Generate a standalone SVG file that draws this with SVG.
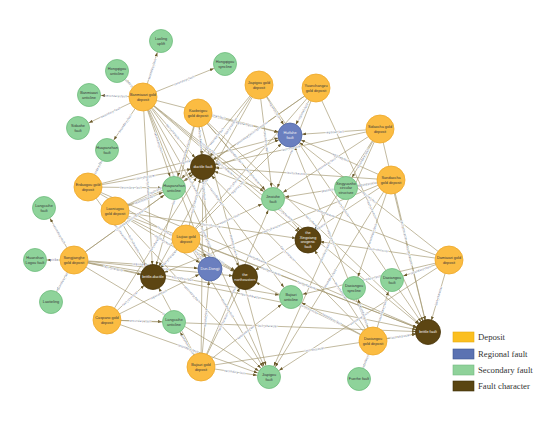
<svg xmlns="http://www.w3.org/2000/svg" width="550" height="425" viewBox="0 0 550 425">
<style>
.e{stroke:#A0946C;stroke-width:0.65;fill:none}
.a{marker-end:url(#arr)}
.b{marker-start:url(#arr)}
.el{font-family:"Liberation Sans",Arial,sans-serif;font-size:3px;fill:#505c7a;stroke:#fff;stroke-width:0.9px;paint-order:stroke;text-anchor:middle}
.dep{fill:#FBBC42;stroke:#EDA82A;stroke-width:0.8}
.reg{fill:#6A7FBF;stroke:#5067A6;stroke-width:0.8}
.sec{fill:#8ED39A;stroke:#6EBD7D;stroke-width:0.8}
.chr{fill:#5C4512;stroke:#463408;stroke-width:0.8}
.t{font-family:"Liberation Sans",Arial,sans-serif;font-size:3.8px;text-anchor:middle;fill:#3a3a3a}
.tw{font-family:"Liberation Sans",Arial,sans-serif;font-size:3.8px;text-anchor:middle;fill:#f2f2f2}
.lg{font-family:"Liberation Serif","Times New Roman",serif;font-size:8.7px;fill:#333}
</style>
<defs>
<marker id="arr" markerUnits="userSpaceOnUse" markerWidth="4" markerHeight="3" refX="16" refY="1.5" orient="auto-start-reverse">
<path d="M0,0 L4,1.5 L0,3 z" fill="#6B5A2A"/>
</marker>
</defs>
<g id="connectors">
<path id="e1" class="e a" d="M143 97 L161 41"/>
<path id="e2" class="e a" d="M143 97 L225 64"/>
<path id="e3" class="e b" d="M117 71 L143 97"/>
<path id="e4" class="e b" d="M89 95 L143 97"/>
<path id="e5" class="e b" d="M78 128 L143 97"/>
<path id="e6" class="e b" d="M107 150 L143 97"/>
<path id="e7" class="e a" d="M143 97 L203 167"/>
<path id="e8" class="e a" d="M143 97 L290 135"/>
<path id="e9" class="e a" d="M143 97 L153 277"/>
<path id="e10" class="e a" d="M143 97 L174 188"/>
<path id="e11" class="e a" d="M143 97 L273 199"/>
<path id="e12" class="e a" d="M143 97 L245 277"/>
<path id="e13" class="e a" d="M143 97 L308 240"/>
<path id="e14" class="e a" d="M143 97 L210 269"/>
<path id="e15" class="e a" d="M143 97 L428 332"/>
<path id="e16" class="e a" d="M143 97 L269 377"/>
<path id="e17" class="e a" d="M143 97 L291 297"/>
<path id="e18" class="e a" d="M198 113 L203 167"/>
<path id="e19" class="e a" d="M198 113 L290 135"/>
<path id="e20" class="e b" d="M174 188 L198 113"/>
<path id="e21" class="e b" d="M153 277 L198 113"/>
<path id="e22" class="e a" d="M198 113 L308 240"/>
<path id="e23" class="e a" d="M198 113 L428 332"/>
<path id="e24" class="e a" d="M198 113 L273 199"/>
<path id="e25" class="e a" d="M198 113 L210 269"/>
<path id="e26" class="e a" d="M198 113 L269 377"/>
<path id="e27" class="e a" d="M259 85 L290 135"/>
<path id="e28" class="e b" d="M203 167 L259 85"/>
<path id="e29" class="e b" d="M174 188 L259 85"/>
<path id="e30" class="e a" d="M259 85 L428 332"/>
<path id="e31" class="e a" d="M259 85 L273 199"/>
<path id="e32" class="e b" d="M153 277 L259 85"/>
<path id="e33" class="e b" d="M290 135 L316 88"/>
<path id="e34" class="e b" d="M203 167 L316 88"/>
<path id="e35" class="e b" d="M273 199 L316 88"/>
<path id="e36" class="e a" d="M316 88 L428 332"/>
<path id="e37" class="e b" d="M174 188 L316 88"/>
<path id="e38" class="e b" d="M153 277 L316 88"/>
<path id="e39" class="e b" d="M290 135 L380 129"/>
<path id="e40" class="e b" d="M203 167 L380 129"/>
<path id="e41" class="e b" d="M346 188 L380 129"/>
<path id="e42" class="e a" d="M380 129 L428 332"/>
<path id="e43" class="e b" d="M273 199 L380 129"/>
<path id="e44" class="e b" d="M308 240 L380 129"/>
<path id="e45" class="e b" d="M269 377 L380 129"/>
<path id="e46" class="e b" d="M290 135 L391 180"/>
<path id="e47" class="e b" d="M203 167 L391 180"/>
<path id="e48" class="e b" d="M346 188 L391 180"/>
<path id="e49" class="e a" d="M391 180 L428 332"/>
<path id="e50" class="e b" d="M269 377 L391 180"/>
<path id="e51" class="e b" d="M153 277 L391 180"/>
<path id="e52" class="e b" d="M273 199 L391 180"/>
<path id="e53" class="e b" d="M245 277 L391 180"/>
<path id="e54" class="e b" d="M354 288 L391 180"/>
<path id="e55" class="e b" d="M428 332 L449 260"/>
<path id="e56" class="e b" d="M392 280 L449 260"/>
<path id="e57" class="e b" d="M290 135 L449 260"/>
<path id="e58" class="e b" d="M203 167 L449 260"/>
<path id="e59" class="e b" d="M269 377 L449 260"/>
<path id="e60" class="e b" d="M291 297 L449 260"/>
<path id="e61" class="e b" d="M308 240 L449 260"/>
<path id="e62" class="e b" d="M354 288 L373 341"/>
<path id="e63" class="e a" d="M373 341 L392 280"/>
<path id="e64" class="e b" d="M359 379 L373 341"/>
<path id="e65" class="e a" d="M373 341 L428 332"/>
<path id="e66" class="e b" d="M308 240 L373 341"/>
<path id="e67" class="e b" d="M290 135 L373 341"/>
<path id="e68" class="e b" d="M203 167 L373 341"/>
<path id="e69" class="e b" d="M291 297 L373 341"/>
<path id="e70" class="e b" d="M245 277 L373 341"/>
<path id="e71" class="e b" d="M174 322 L201 367"/>
<path id="e72" class="e a" d="M201 367 L269 377"/>
<path id="e73" class="e a" d="M201 367 L210 269"/>
<path id="e74" class="e a" d="M201 367 L203 167"/>
<path id="e75" class="e a" d="M201 367 L245 277"/>
<path id="e76" class="e a" d="M201 367 L291 297"/>
<path id="e77" class="e a" d="M201 367 L428 332"/>
<path id="e78" class="e b" d="M153 277 L201 367"/>
<path id="e79" class="e a" d="M201 367 L273 199"/>
<path id="e80" class="e a" d="M107 320 L153 277"/>
<path id="e81" class="e a" d="M107 320 L174 322"/>
<path id="e82" class="e a" d="M107 320 L269 377"/>
<path id="e83" class="e a" d="M107 320 L210 269"/>
<path id="e84" class="e a" d="M107 320 L428 332"/>
<path id="e85" class="e a" d="M107 320 L203 167"/>
<path id="e86" class="e b" d="M44 208 L74 260"/>
<path id="e87" class="e b" d="M35 260 L74 260"/>
<path id="e88" class="e b" d="M51 302 L74 260"/>
<path id="e89" class="e a" d="M74 260 L153 277"/>
<path id="e90" class="e a" d="M74 260 L203 167"/>
<path id="e91" class="e a" d="M74 260 L210 269"/>
<path id="e92" class="e a" d="M74 260 L245 277"/>
<path id="e93" class="e a" d="M74 260 L269 377"/>
<path id="e94" class="e a" d="M74 260 L428 332"/>
<path id="e95" class="e a" d="M74 260 L174 188"/>
<path id="e96" class="e a" d="M74 260 L291 297"/>
<path id="e97" class="e a" d="M115 211 L203 167"/>
<path id="e98" class="e a" d="M115 211 L174 188"/>
<path id="e99" class="e a" d="M115 211 L153 277"/>
<path id="e100" class="e a" d="M115 211 L210 269"/>
<path id="e101" class="e a" d="M115 211 L269 377"/>
<path id="e102" class="e a" d="M115 211 L428 332"/>
<path id="e103" class="e a" d="M115 211 L290 135"/>
<path id="e104" class="e a" d="M115 211 L245 277"/>
<path id="e105" class="e a" d="M115 211 L308 240"/>
<path id="e106" class="e a" d="M88 187 L107 150"/>
<path id="e107" class="e a" d="M88 187 L203 167"/>
<path id="e108" class="e a" d="M88 187 L174 188"/>
<path id="e109" class="e a" d="M88 187 L290 135"/>
<path id="e110" class="e a" d="M88 187 L153 277"/>
<path id="e111" class="e a" d="M88 187 L428 332"/>
<path id="e112" class="e a" d="M88 187 L245 277"/>
<path id="e113" class="e a" d="M186 239 L203 167"/>
<path id="e114" class="e a" d="M186 239 L210 269"/>
<path id="e115" class="e a" d="M186 239 L245 277"/>
<path id="e116" class="e b" d="M153 277 L186 239"/>
<path id="e117" class="e a" d="M186 239 L269 377"/>
<path id="e118" class="e a" d="M186 239 L428 332"/>
<path id="e119" class="e a" d="M186 239 L290 135"/>
<path id="e120" class="e a" d="M186 239 L273 199"/>
<g id="edge-labels">
<text class="el" dy="1"><textPath href="#e1" startOffset="50%">secondary_fault</textPath></text>
<text class="el" dy="1"><textPath href="#e2" startOffset="50%">secondary_fault</textPath></text>
<text class="el" dy="1"><textPath href="#e3" startOffset="50%">secondary_fault</textPath></text>
<text class="el" dy="1"><textPath href="#e4" startOffset="50%">secondary_fault</textPath></text>
<text class="el" dy="1"><textPath href="#e5" startOffset="50%">secondary_fault</textPath></text>
<text class="el" dy="1"><textPath href="#e6" startOffset="50%">secondary_fault</textPath></text>
<text class="el" dy="1"><textPath href="#e7" startOffset="50%">fault_character</textPath></text>
<text class="el" dy="1"><textPath href="#e8" startOffset="50%">regional_fault</textPath></text>
<text class="el" dy="1"><textPath href="#e9" startOffset="50%">fault_character</textPath></text>
<text class="el" dy="1"><textPath href="#e10" startOffset="50%">secondary_fault</textPath></text>
<text class="el" dy="1"><textPath href="#e11" startOffset="50%">secondary_fault</textPath></text>
<text class="el" dy="1"><textPath href="#e12" startOffset="50%">fault_character</textPath></text>
<text class="el" dy="1"><textPath href="#e13" startOffset="50%">fault_character</textPath></text>
<text class="el" dy="1"><textPath href="#e14" startOffset="50%">regional_fault</textPath></text>
<text class="el" dy="1"><textPath href="#e15" startOffset="50%">fault_character</textPath></text>
<text class="el" dy="1"><textPath href="#e16" startOffset="50%">secondary_fault</textPath></text>
<text class="el" dy="1"><textPath href="#e17" startOffset="50%">secondary_fault</textPath></text>
<text class="el" dy="1"><textPath href="#e18" startOffset="50%">fault_character</textPath></text>
<text class="el" dy="1"><textPath href="#e19" startOffset="50%">regional_fault</textPath></text>
<text class="el" dy="1"><textPath href="#e20" startOffset="50%">secondary_fault</textPath></text>
<text class="el" dy="1"><textPath href="#e21" startOffset="50%">fault_character</textPath></text>
<text class="el" dy="1"><textPath href="#e22" startOffset="50%">fault_character</textPath></text>
<text class="el" dy="1"><textPath href="#e23" startOffset="50%">fault_character</textPath></text>
<text class="el" dy="1"><textPath href="#e24" startOffset="50%">secondary_fault</textPath></text>
<text class="el" dy="1"><textPath href="#e25" startOffset="50%">regional_fault</textPath></text>
<text class="el" dy="1"><textPath href="#e26" startOffset="50%">secondary_fault</textPath></text>
<text class="el" dy="1"><textPath href="#e27" startOffset="50%">regional_fault</textPath></text>
<text class="el" dy="1"><textPath href="#e28" startOffset="50%">fault_character</textPath></text>
<text class="el" dy="1"><textPath href="#e29" startOffset="50%">secondary_fault</textPath></text>
<text class="el" dy="1"><textPath href="#e30" startOffset="50%">fault_character</textPath></text>
<text class="el" dy="1"><textPath href="#e31" startOffset="50%">secondary_fault</textPath></text>
<text class="el" dy="1"><textPath href="#e32" startOffset="50%">fault_character</textPath></text>
<text class="el" dy="1"><textPath href="#e33" startOffset="50%">regional_fault</textPath></text>
<text class="el" dy="1"><textPath href="#e34" startOffset="50%">fault_character</textPath></text>
<text class="el" dy="1"><textPath href="#e35" startOffset="50%">secondary_fault</textPath></text>
<text class="el" dy="1"><textPath href="#e36" startOffset="50%">fault_character</textPath></text>
<text class="el" dy="1"><textPath href="#e37" startOffset="50%">secondary_fault</textPath></text>
<text class="el" dy="1"><textPath href="#e38" startOffset="50%">fault_character</textPath></text>
<text class="el" dy="1"><textPath href="#e39" startOffset="50%">regional_fault</textPath></text>
<text class="el" dy="1"><textPath href="#e40" startOffset="50%">fault_character</textPath></text>
<text class="el" dy="1"><textPath href="#e41" startOffset="50%">secondary_fault</textPath></text>
<text class="el" dy="1"><textPath href="#e42" startOffset="50%">fault_character</textPath></text>
<text class="el" dy="1"><textPath href="#e43" startOffset="50%">secondary_fault</textPath></text>
<text class="el" dy="1"><textPath href="#e44" startOffset="50%">fault_character</textPath></text>
<text class="el" dy="1"><textPath href="#e45" startOffset="50%">secondary_fault</textPath></text>
<text class="el" dy="1"><textPath href="#e46" startOffset="50%">regional_fault</textPath></text>
<text class="el" dy="1"><textPath href="#e47" startOffset="50%">fault_character</textPath></text>
<text class="el" dy="1"><textPath href="#e48" startOffset="50%">secondary_fault</textPath></text>
<text class="el" dy="1"><textPath href="#e49" startOffset="50%">fault_character</textPath></text>
<text class="el" dy="1"><textPath href="#e50" startOffset="50%">secondary_fault</textPath></text>
<text class="el" dy="1"><textPath href="#e51" startOffset="50%">fault_character</textPath></text>
<text class="el" dy="1"><textPath href="#e52" startOffset="50%">secondary_fault</textPath></text>
<text class="el" dy="1"><textPath href="#e53" startOffset="50%">fault_character</textPath></text>
<text class="el" dy="1"><textPath href="#e54" startOffset="50%">secondary_fault</textPath></text>
<text class="el" dy="1"><textPath href="#e55" startOffset="50%">fault_character</textPath></text>
<text class="el" dy="1"><textPath href="#e56" startOffset="50%">secondary_fault</textPath></text>
<text class="el" dy="1"><textPath href="#e57" startOffset="50%">regional_fault</textPath></text>
<text class="el" dy="1"><textPath href="#e58" startOffset="50%">fault_character</textPath></text>
<text class="el" dy="1"><textPath href="#e59" startOffset="50%">secondary_fault</textPath></text>
<text class="el" dy="1"><textPath href="#e60" startOffset="50%">secondary_fault</textPath></text>
<text class="el" dy="1"><textPath href="#e61" startOffset="50%">fault_character</textPath></text>
<text class="el" dy="1"><textPath href="#e62" startOffset="50%">secondary_fault</textPath></text>
<text class="el" dy="1"><textPath href="#e63" startOffset="50%">secondary_fault</textPath></text>
<text class="el" dy="1"><textPath href="#e64" startOffset="50%">secondary_fault</textPath></text>
<text class="el" dy="1"><textPath href="#e65" startOffset="50%">fault_character</textPath></text>
<text class="el" dy="1"><textPath href="#e66" startOffset="50%">fault_character</textPath></text>
<text class="el" dy="1"><textPath href="#e67" startOffset="50%">regional_fault</textPath></text>
<text class="el" dy="1"><textPath href="#e68" startOffset="50%">fault_character</textPath></text>
<text class="el" dy="1"><textPath href="#e69" startOffset="50%">secondary_fault</textPath></text>
<text class="el" dy="1"><textPath href="#e70" startOffset="50%">fault_character</textPath></text>
<text class="el" dy="1"><textPath href="#e71" startOffset="50%">secondary_fault</textPath></text>
<text class="el" dy="1"><textPath href="#e72" startOffset="50%">secondary_fault</textPath></text>
<text class="el" dy="1"><textPath href="#e73" startOffset="50%">regional_fault</textPath></text>
<text class="el" dy="1"><textPath href="#e74" startOffset="50%">fault_character</textPath></text>
<text class="el" dy="1"><textPath href="#e75" startOffset="50%">fault_character</textPath></text>
<text class="el" dy="1"><textPath href="#e76" startOffset="50%">secondary_fault</textPath></text>
<text class="el" dy="1"><textPath href="#e77" startOffset="50%">fault_character</textPath></text>
<text class="el" dy="1"><textPath href="#e78" startOffset="50%">fault_character</textPath></text>
<text class="el" dy="1"><textPath href="#e79" startOffset="50%">secondary_fault</textPath></text>
<text class="el" dy="1"><textPath href="#e80" startOffset="50%">fault_character</textPath></text>
<text class="el" dy="1"><textPath href="#e81" startOffset="50%">secondary_fault</textPath></text>
<text class="el" dy="1"><textPath href="#e82" startOffset="50%">secondary_fault</textPath></text>
<text class="el" dy="1"><textPath href="#e83" startOffset="50%">regional_fault</textPath></text>
<text class="el" dy="1"><textPath href="#e84" startOffset="50%">fault_character</textPath></text>
<text class="el" dy="1"><textPath href="#e85" startOffset="50%">fault_character</textPath></text>
<text class="el" dy="1"><textPath href="#e86" startOffset="50%">secondary_fault</textPath></text>
<text class="el" dy="1"><textPath href="#e87" startOffset="50%">strike</textPath></text>
<text class="el" dy="1"><textPath href="#e88" startOffset="50%">secondary_fault</textPath></text>
<text class="el" dy="1"><textPath href="#e89" startOffset="50%">fault_character</textPath></text>
<text class="el" dy="1"><textPath href="#e90" startOffset="50%">fault_character</textPath></text>
<text class="el" dy="1"><textPath href="#e91" startOffset="50%">regional_fault</textPath></text>
<text class="el" dy="1"><textPath href="#e92" startOffset="50%">fault_character</textPath></text>
<text class="el" dy="1"><textPath href="#e93" startOffset="50%">secondary_fault</textPath></text>
<text class="el" dy="1"><textPath href="#e94" startOffset="50%">fault_character</textPath></text>
<text class="el" dy="1"><textPath href="#e95" startOffset="50%">secondary_fault</textPath></text>
<text class="el" dy="1"><textPath href="#e96" startOffset="50%">secondary_fault</textPath></text>
<text class="el" dy="1"><textPath href="#e97" startOffset="50%">fault_character</textPath></text>
<text class="el" dy="1"><textPath href="#e98" startOffset="50%">secondary_fault</textPath></text>
<text class="el" dy="1"><textPath href="#e99" startOffset="50%">fault_character</textPath></text>
<text class="el" dy="1"><textPath href="#e100" startOffset="50%">regional_fault</textPath></text>
<text class="el" dy="1"><textPath href="#e101" startOffset="50%">secondary_fault</textPath></text>
<text class="el" dy="1"><textPath href="#e102" startOffset="50%">fault_character</textPath></text>
<text class="el" dy="1"><textPath href="#e103" startOffset="50%">regional_fault</textPath></text>
<text class="el" dy="1"><textPath href="#e104" startOffset="50%">fault_character</textPath></text>
<text class="el" dy="1"><textPath href="#e105" startOffset="50%">fault_character</textPath></text>
<text class="el" dy="1"><textPath href="#e106" startOffset="50%">secondary_fault</textPath></text>
<text class="el" dy="1"><textPath href="#e107" startOffset="50%">fault_character</textPath></text>
<text class="el" dy="1"><textPath href="#e108" startOffset="50%">secondary_fault</textPath></text>
<text class="el" dy="1"><textPath href="#e109" startOffset="50%">regional_fault</textPath></text>
<text class="el" dy="1"><textPath href="#e110" startOffset="50%">fault_character</textPath></text>
<text class="el" dy="1"><textPath href="#e111" startOffset="50%">fault_character</textPath></text>
<text class="el" dy="1"><textPath href="#e112" startOffset="50%">fault_character</textPath></text>
<text class="el" dy="1"><textPath href="#e113" startOffset="50%">fault_character</textPath></text>
<text class="el" dy="1"><textPath href="#e114" startOffset="50%">regional_fault</textPath></text>
<text class="el" dy="1"><textPath href="#e115" startOffset="50%">fault_character</textPath></text>
<text class="el" dy="1"><textPath href="#e116" startOffset="50%">fault_character</textPath></text>
<text class="el" dy="1"><textPath href="#e117" startOffset="50%">secondary_fault</textPath></text>
<text class="el" dy="1"><textPath href="#e118" startOffset="50%">fault_character</textPath></text>
<text class="el" dy="1"><textPath href="#e119" startOffset="50%">regional_fault</textPath></text>
<text class="el" dy="1"><textPath href="#e120" startOffset="50%">secondary_fault</textPath></text>
</g>
</g>
<g id="nodes">
<g id="banmiaozi-gd"><circle class="dep" cx="143" cy="97" r="14"/><text class="t" x="143" y="96">Banmiaozi gold</text><text class="t" x="143" y="100.5">deposit</text></g>
<g id="kaobeigou-gd"><circle class="dep" cx="198" cy="113" r="14"/><text class="t" x="198" y="112">Kaobeigou</text><text class="t" x="198" y="116.5">gold deposit</text></g>
<g id="jiapigou-gd"><circle class="dep" cx="259" cy="85" r="14"/><text class="t" x="259" y="84">Jiapigou gold</text><text class="t" x="259" y="88.5">deposit</text></g>
<g id="yuanchangzu-gd"><circle class="dep" cx="316" cy="88" r="14"/><text class="t" x="316" y="87">Yuanchangzu</text><text class="t" x="316" y="91.5">gold deposit</text></g>
<g id="sidaocha-gd"><circle class="dep" cx="380" cy="129" r="14"/><text class="t" x="380" y="128">Sidaocha gold</text><text class="t" x="380" y="132.5">deposit</text></g>
<g id="sandaocha-gd"><circle class="dep" cx="391" cy="180" r="14"/><text class="t" x="391" y="179">Sandaocha</text><text class="t" x="391" y="183.5">gold deposit</text></g>
<g id="damiaozi-gd"><circle class="dep" cx="449" cy="260" r="14"/><text class="t" x="449" y="259">Damiaozi gold</text><text class="t" x="449" y="263.5">deposit</text></g>
<g id="daxiangou-gd"><circle class="dep" cx="373" cy="341" r="14"/><text class="t" x="373" y="340">Daxiangou</text><text class="t" x="373" y="344.5">gold deposit</text></g>
<g id="bajiazi-gd"><circle class="dep" cx="201" cy="367" r="14"/><text class="t" x="201" y="366">Bajiazi gold</text><text class="t" x="201" y="370.5">deposit</text></g>
<g id="caspano-gd"><circle class="dep" cx="107" cy="320" r="14"/><text class="t" x="107" y="319">Caspano gold</text><text class="t" x="107" y="323.5">deposit</text></g>
<g id="songjianghe-gd"><circle class="dep" cx="74" cy="260" r="14"/><text class="t" x="74" y="259">Songjianghe</text><text class="t" x="74" y="263.5">gold deposit</text></g>
<g id="laoniugou-gd"><circle class="dep" cx="115" cy="211" r="14"/><text class="t" x="115" y="210">Laoniugou</text><text class="t" x="115" y="214.5">gold deposit</text></g>
<g id="erdaogou-gd"><circle class="dep" cx="88" cy="187" r="14"/><text class="t" x="88" y="186">Erdaogou gold</text><text class="t" x="88" y="190.5">deposit</text></g>
<g id="liujiao-gd"><circle class="dep" cx="186" cy="239" r="14"/><text class="t" x="186" y="238">Liujiao gold</text><text class="t" x="186" y="242.5">deposit</text></g>
<g id="huifahe-fault"><circle class="reg" cx="290" cy="135" r="12"/><text class="tw" x="290" y="134">Huifahe</text><text class="tw" x="290" y="138.5">fault</text></g>
<g id="dun-dongji"><circle class="reg" cx="210" cy="269" r="12"/><text class="tw" x="210" y="270.3">Dun-Dongji</text></g>
<g id="ductile-fault"><circle class="chr" cx="203" cy="167" r="12.5"/><text class="tw" x="203" y="168.3">ductile fault</text></g>
<g id="xingxiang-fault"><circle class="chr" cx="308" cy="240" r="13"/><text class="tw" x="308" y="234">the</text><text class="tw" x="308" y="238.5">Xingxiang</text><text class="tw" x="308" y="243">orogenic</text><text class="tw" x="308" y="247.5">fault</text></g>
<g id="brittle-ductile"><circle class="chr" cx="153" cy="277" r="12.5"/><text class="tw" x="153" y="278.3">brittle-ductile</text></g>
<g id="northeastern"><circle class="chr" cx="245" cy="277" r="12.5"/><text class="tw" x="245" y="276">the</text><text class="tw" x="245" y="280.5">northeastern</text></g>
<g id="brittle-fault"><circle class="chr" cx="428" cy="332" r="12.5"/><text class="tw" x="428" y="333.3">brittle fault</text></g>
<g id="laoling-uplift"><circle class="sec" cx="161" cy="41" r="11.5"/><text class="t" x="161" y="40">Laoling</text><text class="t" x="161" y="44.5">uplift</text></g>
<g id="hongqigou-syncline"><circle class="sec" cx="225" cy="64" r="11.5"/><text class="t" x="225" y="63">Hongqigou</text><text class="t" x="225" y="67.5">syncline</text></g>
<g id="hongqigou-anticline"><circle class="sec" cx="117" cy="71" r="11.5"/><text class="t" x="117" y="70">Hongqigou</text><text class="t" x="117" y="74.5">anticline</text></g>
<g id="banmiaozi-anticline"><circle class="sec" cx="89" cy="95" r="11.5"/><text class="t" x="89" y="94">Banmiaozi</text><text class="t" x="89" y="98.5">anticline</text></g>
<g id="sidaohe-fault"><circle class="sec" cx="78" cy="128" r="11.5"/><text class="t" x="78" y="127">Sidaohe</text><text class="t" x="78" y="131.5">fault</text></g>
<g id="huapanzhan-fault"><circle class="sec" cx="107" cy="150" r="11.5"/><text class="t" x="107" y="149">Huapanzhan</text><text class="t" x="107" y="153.5">fault</text></g>
<g id="langcaihe-fault"><circle class="sec" cx="44" cy="208" r="11.5"/><text class="t" x="44" y="207">Langcaihe</text><text class="t" x="44" y="211.5">fault</text></g>
<g id="huanshan-logou-fault"><circle class="sec" cx="35" cy="260" r="11.5"/><text class="t" x="35" y="259">Huanshan</text><text class="t" x="35" y="263.5">Logou fault</text></g>
<g id="laotieling"><circle class="sec" cx="51" cy="302" r="11.5"/><text class="t" x="51" y="303.3">Laotieling</text></g>
<g id="huapanzhan-anticline"><circle class="sec" cx="174" cy="188" r="11.5"/><text class="t" x="174" y="187">Huapanzhan</text><text class="t" x="174" y="191.5">anticline</text></g>
<g id="jinxiuhe-fault"><circle class="sec" cx="273" cy="199" r="11.5"/><text class="t" x="273" y="198">Jinxiuhe</text><text class="t" x="273" y="202.5">fault</text></g>
<g id="xingyuanhe-structure"><circle class="sec" cx="346" cy="188" r="11.5"/><text class="t" x="346" y="184.5">Xingyuanhe</text><text class="t" x="346" y="189">circular</text><text class="t" x="346" y="193.5">structure</text></g>
<g id="langcaihe-anticline"><circle class="sec" cx="174" cy="322" r="11.5"/><text class="t" x="174" y="321">Langcaihe</text><text class="t" x="174" y="325.5">anticline</text></g>
<g id="bajiazi-anticline"><circle class="sec" cx="291" cy="297" r="11.5"/><text class="t" x="291" y="296">Bajiazi</text><text class="t" x="291" y="300.5">anticline</text></g>
<g id="jiapigou-fault"><circle class="sec" cx="269" cy="377" r="11.5"/><text class="t" x="269" y="376">Jiapigou</text><text class="t" x="269" y="380.5">fault</text></g>
<g id="daxiangou-syncline"><circle class="sec" cx="354" cy="288" r="11.5"/><text class="t" x="354" y="287">Daxiangou</text><text class="t" x="354" y="291.5">syncline</text></g>
<g id="daxiangou-fault"><circle class="sec" cx="392" cy="280" r="11.5"/><text class="t" x="392" y="279">Daxiangou</text><text class="t" x="392" y="283.5">fault</text></g>
<g id="fuerhe-fault"><circle class="sec" cx="359" cy="379" r="11.5"/><text class="t" x="359" y="380.3">Fuerhe fault</text></g>
</g>
<g id="legend">
<rect x="453" y="332" width="21" height="10" fill="#FBBF1F" stroke="#E8AA10" stroke-width="0.6"/>
<text class="lg" x="478" y="340">Deposit</text>
<rect x="453" y="349" width="21" height="10" fill="#5B72B2" stroke="#3F568F" stroke-width="0.6"/>
<text class="lg" x="478" y="357">Regional fault</text>
<rect x="453" y="365" width="21" height="10" fill="#8FD29A" stroke="#74BA80" stroke-width="0.6"/>
<text class="lg" x="478" y="373">Secondary fault</text>
<rect x="453" y="381" width="21" height="10" fill="#5A4511" stroke="#3E2F08" stroke-width="0.6"/>
<text class="lg" x="478" y="389">Fault character</text>
</g>
</svg>
